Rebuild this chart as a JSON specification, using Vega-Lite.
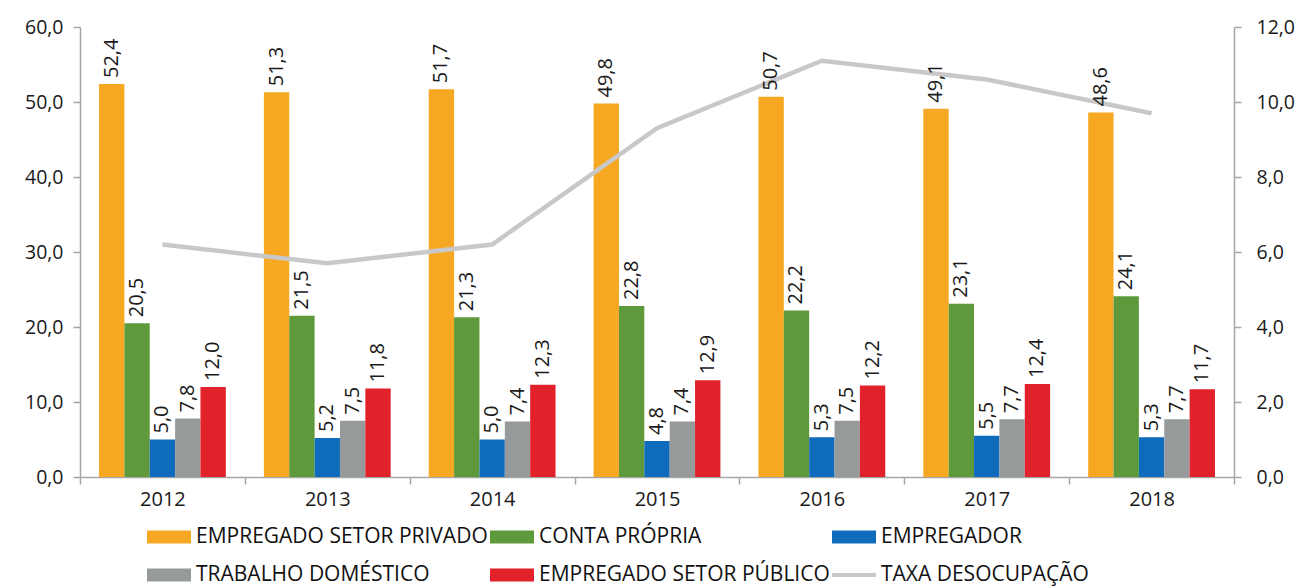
{
  "$schema": "https://vega.github.io/schema/vega-lite/v6.json",
  "width": 1154,
  "height": 450,
  "autosize": {"type": "none"},
  "padding": {"left": 80, "top": 27, "right": 70, "bottom": 111},
  "background": "white",
  "config": {
    "locale": {"number": {"decimal": ",", "thousands": ".", "grouping": [3], "currency": ["R$", ""]}},
    "view": {"stroke": null},
    "font": "Open Sans",
    "axis": {"labelFont": "Open Sans", "labelFontSize": 19.5, "labelColor": "#1a1a1a", "domainColor": "#a6a6a6", "tickColor": "#a6a6a6", "grid": false, "title": null, "domainWidth": 1.5, "tickWidth": 1.5}
  },
  "datasets": {
    "emp": [
      {"ano": "2012", "serie": "EMPREGADO SETOR PRIVADO", "valor": 52.4},
      {"ano": "2012", "serie": "CONTA PRÓPRIA", "valor": 20.5},
      {"ano": "2012", "serie": "EMPREGADOR", "valor": 5.0},
      {"ano": "2012", "serie": "TRABALHO DOMÉSTICO", "valor": 7.8},
      {"ano": "2012", "serie": "EMPREGADO SETOR PÚBLICO", "valor": 12.0},
      {"ano": "2013", "serie": "EMPREGADO SETOR PRIVADO", "valor": 51.3},
      {"ano": "2013", "serie": "CONTA PRÓPRIA", "valor": 21.5},
      {"ano": "2013", "serie": "EMPREGADOR", "valor": 5.2},
      {"ano": "2013", "serie": "TRABALHO DOMÉSTICO", "valor": 7.5},
      {"ano": "2013", "serie": "EMPREGADO SETOR PÚBLICO", "valor": 11.8},
      {"ano": "2014", "serie": "EMPREGADO SETOR PRIVADO", "valor": 51.7},
      {"ano": "2014", "serie": "CONTA PRÓPRIA", "valor": 21.3},
      {"ano": "2014", "serie": "EMPREGADOR", "valor": 5.0},
      {"ano": "2014", "serie": "TRABALHO DOMÉSTICO", "valor": 7.4},
      {"ano": "2014", "serie": "EMPREGADO SETOR PÚBLICO", "valor": 12.3},
      {"ano": "2015", "serie": "EMPREGADO SETOR PRIVADO", "valor": 49.8},
      {"ano": "2015", "serie": "CONTA PRÓPRIA", "valor": 22.8},
      {"ano": "2015", "serie": "EMPREGADOR", "valor": 4.8},
      {"ano": "2015", "serie": "TRABALHO DOMÉSTICO", "valor": 7.4},
      {"ano": "2015", "serie": "EMPREGADO SETOR PÚBLICO", "valor": 12.9},
      {"ano": "2016", "serie": "EMPREGADO SETOR PRIVADO", "valor": 50.7},
      {"ano": "2016", "serie": "CONTA PRÓPRIA", "valor": 22.2},
      {"ano": "2016", "serie": "EMPREGADOR", "valor": 5.3},
      {"ano": "2016", "serie": "TRABALHO DOMÉSTICO", "valor": 7.5},
      {"ano": "2016", "serie": "EMPREGADO SETOR PÚBLICO", "valor": 12.2},
      {"ano": "2017", "serie": "EMPREGADO SETOR PRIVADO", "valor": 49.1},
      {"ano": "2017", "serie": "CONTA PRÓPRIA", "valor": 23.1},
      {"ano": "2017", "serie": "EMPREGADOR", "valor": 5.5},
      {"ano": "2017", "serie": "TRABALHO DOMÉSTICO", "valor": 7.7},
      {"ano": "2017", "serie": "EMPREGADO SETOR PÚBLICO", "valor": 12.4},
      {"ano": "2018", "serie": "EMPREGADO SETOR PRIVADO", "valor": 48.6},
      {"ano": "2018", "serie": "CONTA PRÓPRIA", "valor": 24.1},
      {"ano": "2018", "serie": "EMPREGADOR", "valor": 5.3},
      {"ano": "2018", "serie": "TRABALHO DOMÉSTICO", "valor": 7.7},
      {"ano": "2018", "serie": "EMPREGADO SETOR PÚBLICO", "valor": 11.7}
    ],
    "taxa": [
      {"ano": "2012", "taxa": 6.2},
      {"ano": "2013", "taxa": 5.7},
      {"ano": "2014", "taxa": 6.2},
      {"ano": "2015", "taxa": 9.3},
      {"ano": "2016", "taxa": 11.1},
      {"ano": "2017", "taxa": 10.6},
      {"ano": "2018", "taxa": 9.7}
    ]
  },
  "encoding": {
    "x": {
      "field": "ano", "type": "nominal",
      "scale": {"paddingInner": 0, "paddingOuter": 0},
      "axis": {"labelAngle": 0, "tickBand": "extent", "tickSize": 7, "labelPadding": 5, "labelFontSize": 20}
    }
  },
  "layer": [
    {
      "data": {"name": "emp"},
      "mark": {"type": "bar"},
      "encoding": {
        "xOffset": {"field": "serie", "type": "nominal",
          "sort": ["EMPREGADO SETOR PRIVADO", "CONTA PRÓPRIA", "EMPREGADOR", "TRABALHO DOMÉSTICO", "EMPREGADO SETOR PÚBLICO"],
          "scale": {"paddingInner": 0, "paddingOuter": 0.75}},
        "y": {"field": "valor", "type": "quantitative",
          "scale": {"domain": [0, 60], "nice": false},
          "axis": {"values": [0, 10, 20, 30, 40, 50, 60], "format": ".1f", "tickSize": 7, "labelPadding": 10}},
        "color": {
          "field": "serie", "type": "nominal",
          "scale": {
            "domain": ["EMPREGADO SETOR PRIVADO", "CONTA PRÓPRIA", "EMPREGADOR", "TRABALHO DOMÉSTICO", "EMPREGADO SETOR PÚBLICO", "TAXA DESOCUPAÇÃO"],
            "range": ["#f6a823", "#5e9a3b", "#0f6cbd", "#979a9a", "#e2222a", "#c8c8c8"]
          },
          "legend": {
            "title": null,
            "orient": "none",
            "legendX": 67,
            "legendY": 488,
            "direction": "horizontal",
            "columns": 3,
            "columnPadding": 2,
            "rowPadding": 6,
            "symbolType": "M-1,-0.3H1V0.3H-1Z",
            "symbolSize": 1936,
            "symbolStrokeWidth": 0,
            "labelFont": "Open Sans",
            "labelFontSize": 21,
            "labelColor": "#111111",
            "labelLimit": 400,
            "labelOffset": 5,
            "encode": {
              "symbols": {"update": {"shape": {"signal": "datum.value === 'TAXA DESOCUPAÇÃO' ? 'M-1,-0.09H1V0.09H-1Z' : 'M-1,-0.3H1V0.3H-1Z'"}}}
            }
          }
        }
      }
    },
    {
      "data": {"name": "taxa"},
      "mark": {"type": "line", "strokeWidth": 4.5, "color": "#c8c8c8"},
      "encoding": {
        "y": {"field": "taxa", "type": "quantitative",
          "scale": {"domain": [0, 12], "nice": false},
          "axis": {"orient": "right", "values": [0, 2, 4, 6, 8, 10, 12], "format": ".1f", "tickSize": 7, "labelPadding": 15}},
        "color": {"datum": "TAXA DESOCUPAÇÃO"}
      }
    },
    {
      "data": {"name": "emp"},
      "mark": {"type": "text", "angle": 270, "align": "left", "baseline": "middle", "dx": 6, "fontSize": 20, "font": "Open Sans", "color": "#1a1a1a"},
      "encoding": {
        "xOffset": {"field": "serie", "type": "nominal",
          "sort": ["EMPREGADO SETOR PRIVADO", "CONTA PRÓPRIA", "EMPREGADOR", "TRABALHO DOMÉSTICO", "EMPREGADO SETOR PÚBLICO"],
          "scale": {"paddingInner": 0, "paddingOuter": 0.75}},
        "y": {"field": "valor", "type": "quantitative",
          "scale": {"domain": [0, 60], "nice": false},
          "axis": null},
        "text": {"field": "valor", "type": "quantitative", "format": ".1f"}
      }
    }
  ],
  "resolve": {"scale": {"y": "independent"}}
}
